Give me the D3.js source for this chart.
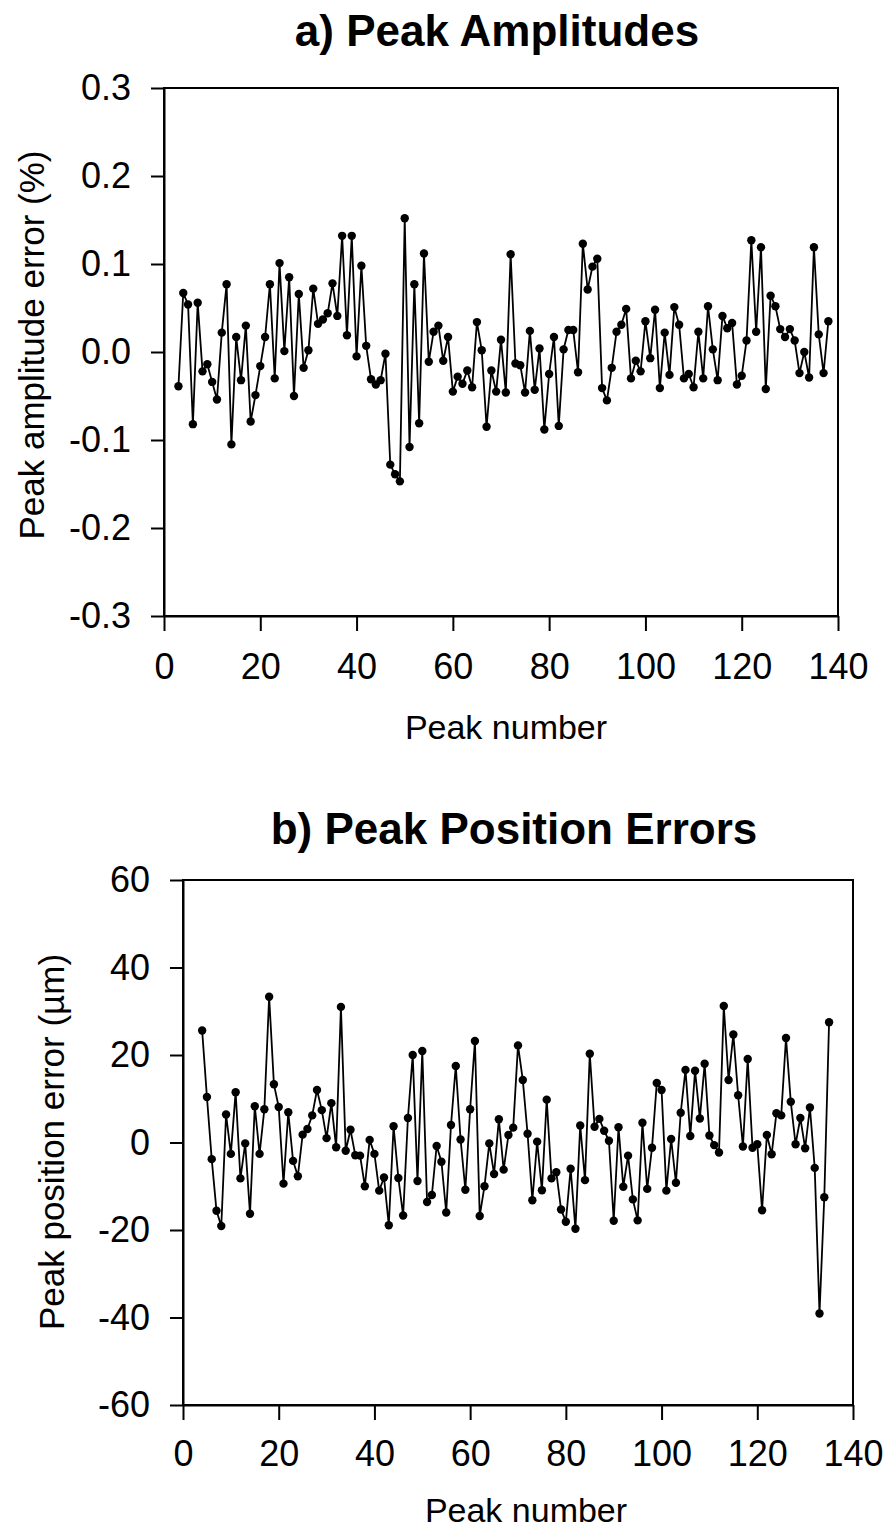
<!DOCTYPE html>
<html><head><meta charset="utf-8">
<script src="https://cdn.jsdelivr.net/npm/d3@7/dist/d3.min.js"></script>
<style>
body{margin:0;background:#fff;}
svg{display:block;font-family:"Liberation Sans",Arial,Helvetica,sans-serif;}
</style></head><body>
<script>
// ---- Data ----
// a) Peak amplitude error (%), peak numbers 3..138
const ampStart = 3;
const ampErr = [
-0.039,0.067,0.054,-0.082,0.056,-0.022,-0.014,-0.034,-0.054,0.022,
0.077,-0.105,0.017,-0.032,0.030,-0.079,-0.049,-0.016,0.017,0.077,
-0.030,0.101,0.001,0.085,-0.050,0.066,-0.018,0.002,0.072,0.032,
0.037,0.044,0.078,0.041,0.132,0.019,0.132,-0.005,0.098,0.007,
-0.031,-0.037,-0.032,-0.002,-0.128,-0.139,-0.147,0.152,-0.108,0.077,
-0.081,0.112,-0.011,0.023,0.030,-0.010,0.017,-0.045,-0.028,-0.036,
-0.021,-0.040,0.034,0.002,-0.085,-0.021,-0.045,0.014,-0.046,0.111,
-0.013,-0.015,-0.046,0.024,-0.043,0.004,-0.088,-0.025,0.017,-0.084,
0.003,0.025,0.025,-0.023,0.123,0.071,0.097,0.106,-0.041,-0.055,
-0.018,0.023,0.031,0.049,-0.030,-0.010,-0.022,0.035,-0.007,0.048,
-0.041,0.022,-0.026,0.051,0.031,-0.030,-0.025,-0.040,0.023,-0.030,
0.052,0.003,-0.032,0.041,0.027,0.033,-0.037,-0.027,0.013,0.127,
0.023,0.119,-0.042,0.064,0.052,0.026,0.017,0.026,0.013,-0.024,
0.000,-0.029,0.119,0.020,-0.024,0.035
];
// b) Peak position error (µm), peak numbers 4..135
const posStart = 4;
const posErr = [
25.6,10.4,-3.8,-15.6,-19.1,6.4,-2.6,11.5,-8.2,-0.2,
-16.3,8.3,-2.6,7.6,33.3,13.3,8.1,-9.4,6.9,-4.2,
-7.7,1.8,3.1,6.2,12.0,7.4,1.0,9.0,-1.1,31.0,
-1.9,2.9,-2.9,-3.0,-10.0,0.6,-2.6,-11.0,-8.0,-18.9,
3.7,-8.1,-16.7,5.6,20.0,-8.8,20.9,-13.6,-12.0,-0.8,
-4.4,-16.0,4.0,17.5,0.7,-10.8,7.6,23.2,-16.8,-10.0,
-0.2,-7.2,5.3,-6.2,1.7,3.4,22.2,14.3,2.0,-13.2,
0.2,-10.9,9.8,-8.2,-6.8,-15.3,-18.1,-6.0,-19.7,3.9,
-8.6,20.3,3.6,5.4,2.7,0.4,-17.9,3.5,-10.1,-3.0,
-13.0,-17.8,4.5,-10.6,-1.2,13.6,12.0,-11.0,0.8,-9.2,
6.8,16.6,1.5,16.4,5.5,18.0,1.6,-0.6,-2.3,31.2,
14.3,24.7,10.8,-0.9,19.1,-1.2,-0.4,-15.5,1.7,-2.7,
6.7,6.2,23.9,9.3,-0.4,5.6,-1.3,8.0,-5.8,-39.1,
-12.5,27.5
];
const xTicks = [0,20,40,60,80,100,120,140];
const ampTicks = [-0.3,-0.2,-0.1,0.0,0.1,0.2,0.3];
const posTicks = [-60,-40,-20,0,20,40,60];

const W = 890, H = 1528;
const svg = d3.select("body").append("svg").attr("width",W).attr("height",H);
const hyph = f => (d => f(d).replace("\u2212","-"));

function panel(cfg){
  const g = svg.append("g");
  const x = d3.scaleLinear().domain([0,140]).range([cfg.left,cfg.right]);
  const y = d3.scaleLinear().domain(cfg.ydom).range([cfg.bottom,cfg.top]);
  g.append("rect").attr("x",cfg.left).attr("y",cfg.top)
    .attr("width",cfg.right-cfg.left).attr("height",cfg.bottom-cfg.top)
    .attr("fill","none").attr("stroke","#000").attr("stroke-width",2);
  const xa = g.append("g").attr("transform",`translate(0,${cfg.bottom})`)
    .call(d3.axisBottom(x).tickValues(xTicks).tickFormat(d3.format("d"))
      .tickSize(15).tickSizeOuter(0).tickPadding(cfg.xpad));
  const ya = g.append("g").attr("transform",`translate(${cfg.left},0)`)
    .call(d3.axisLeft(y).tickValues(cfg.yticks).tickFormat(hyph(cfg.yfmt))
      .tickSize(13).tickSizeOuter(0).tickPadding(20));
  [xa,ya].forEach(a=>{
    a.select(".domain").attr("stroke","#000").attr("stroke-width",2);
    a.selectAll(".tick line").attr("stroke","#000").attr("stroke-width",2);
    a.selectAll(".tick text").attr("fill","#000").style("font-size","36px")
      .style("font-family",'"Liberation Sans",Arial,sans-serif');
  });
  const data = cfg.vals.map((v,i)=>({n:cfg.start+i,v}));
  g.append("path").datum(data)
    .attr("d",d3.line().x(d=>x(d.n)).y(d=>y(d.v)))
    .attr("fill","none").attr("stroke","#000").attr("stroke-width",1.8);
  g.selectAll("circle.pt").data(data).enter().append("circle")
    .attr("class","pt").attr("cx",d=>x(d.n)).attr("cy",d=>y(d.v)).attr("r",4.2).attr("fill","#000");
  g.append("text").attr("x",cfg.titleX).attr("y",cfg.titleY).attr("text-anchor","middle")
    .style("font-size","44px").style("font-weight","bold").text(cfg.title);
  g.append("text").attr("x",cfg.xlabX).attr("y",cfg.xlabY).attr("text-anchor","middle")
    .style("font-size","34px").text("Peak number");
  g.append("text").attr("transform",`translate(${cfg.ylabX},${cfg.ylabY}) rotate(-90)`)
    .attr("text-anchor","middle").style("font-size","35px").text(cfg.ylab);
}

panel({left:164,right:838,top:88,bottom:616,ydom:[-0.3,0.3],yticks:ampTicks,
  yfmt:d3.format(".1f"),vals:ampErr,start:ampStart,xpad:22,
  title:"a) Peak Amplitudes",titleX:497,titleY:46,
  xlabX:506,xlabY:739,ylab:"Peak amplitude error (%)",ylabX:44,ylabY:345});

panel({left:183,right:853,top:880,bottom:1405,ydom:[-60,60],yticks:posTicks,
  yfmt:d3.format("d"),vals:posErr,start:posStart,xpad:20,
  title:"b) Peak Position Errors",titleX:514,titleY:844,
  xlabX:526,xlabY:1522,ylab:"Peak position error (\u00b5m)",ylabX:64,ylabY:1142});
</script>
</body></html>
